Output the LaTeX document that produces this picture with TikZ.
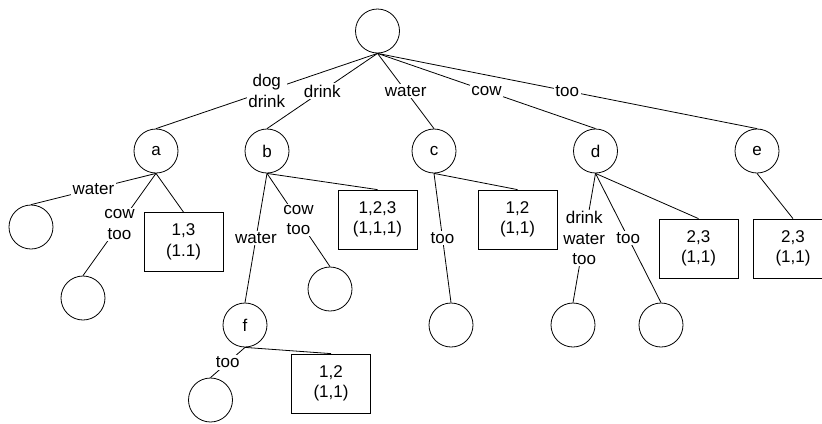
\documentclass[tikz,border=0pt]{standalone}
\usepackage{fontspec}
\setmainfont{Liberation Sans}
\usetikzlibrary{positioning}

\begin{document}
\begin{tikzpicture}[x=1bp,y=-1bp,on grid,line width=0.8bp,
  font=\fontsize{17bp}{20.5bp}\selectfont,
  main node/.style={circle,draw,minimum size=44bp,inner sep=0pt},
  box node/.style={rectangle,draw,minimum width=79bp,minimum height=59bp,
    align=center,inner sep=0pt},
  word/.style={fill=white,inner sep=1.5bp,align=center}]

  \useasboundingbox (0,0) rectangle (822,423);

  \node[main node] (root) at (377.5,31) {};

  \node[main node] (a) [below left=120bp and 221.5bp of root] {a};
  \node[main node] (b) [below left=120bp and 110.5bp of root] {b};
  \node[main node] (c) [below right=120bp and 56.5bp of root] {c};
  \node[main node] (d) [below right=120bp and 218bp of root] {d};
  \node[main node] (e) [below right=120bp and 379.5bp of root] {e};

  \node[main node] (a1) [below left=76bp and 125bp of a] {};
  \node[main node] (a2) [below left=147bp and 73bp of a] {};
  \node[box node] (aBox) [below right=91bp and 27.5bp of a] {1,3\\(1.1)};

  \node[main node] (f) [below left=174bp and 22bp of b] {f};
  \node[main node] (b1) [below right=138bp and 63bp of b] {};
  \node[box node] (bBox) [below right=68.5bp and 110.5bp of b] {1,2,3\\(1,1,1)};

  \node[main node] (c1) [below right=174bp and 17bp of c] {};
  \node[box node] (cBox) [below right=68.5bp and 83.5bp of c] {1,2\\(1,1)};

  \node[main node] (d1) [below left=174bp and 22.5bp of d] {};
  \node[main node] (d2) [below right=174bp and 65.5bp of d] {};
  \node[box node] (dBox) [below right=97.5bp and 103bp of d] {2,3\\(1,1)};

  \node[box node] (eBox) [below right=97.5bp and 36bp of e] {2,3\\(1,1)};

  \node[main node] (f1) [below left=75bp and 34.5bp of f] {};
  \node[box node] (fBox) [below right=58.5bp and 86bp of f] {1,2\\(1,1)};

  \path[every node/.style={word}]
    (root.south) edge node {dog\\drink} (a.north)
    (root.south) edge node {drink} (b.north)
    (root.south) edge node {water} (c.north)
    (root.south) edge node {cow} (d.north)
    (root.south) edge node {too} (e.north)
    (a.south) edge node {water} (a1.north)
    (a.south) edge node {cow\\too} (a2.north)
    (a.south) edge (aBox.north)
    (b.south) edge node {water} (f.north)
    (b.south) edge node {cow\\too} (b1.north)
    (b.south) edge (bBox.north)
    (c.south) edge node {too} (c1.north)
    (c.south) edge (cBox.north)
    (d.south) edge node {drink\\water\\too} (d1.north)
    (d.south) edge node {too} (d2.north)
    (d.south) edge (dBox.north)
    (e.south) edge (eBox.north)
    (f.south) edge node {too} (f1.north)
    (f.south) edge (fBox.north);
\end{tikzpicture}
\end{document}
